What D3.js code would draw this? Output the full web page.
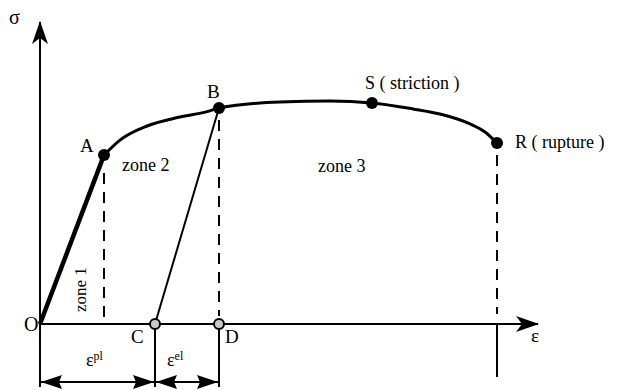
<!DOCTYPE html>
<html>
<head>
<meta charset="utf-8">
<script src="https://cdn.jsdelivr.net/npm/d3@7"></script>
<style>
  body { margin: 0; background: #fff; }
  svg { display: block; }
</style>
</head>
<body>
<div id="chart"></div>
<script>
// stress-strain curve
const curveStrain = [1.28, 1.6, 2.14, 2.8, 3.34, 3.58, 4.8, 5.8, 6.64, 7.46, 8.0, 8.6, 8.9, 9.14];
const curveStress = [56.3, 61.3, 66, 69, 70.8, 72, 74, 74.3, 73.7, 71.7, 70, 66.7, 64, 60.3];

const pointNames = ["A", "B", "S", "R"];
const pointStrain = [1.28, 3.58, 6.64, 9.14];
const pointStress = [56.3, 72, 73.7, 60.3];

const axisNames = ["C", "D"];
const axisStrain = [2.3, 3.58];

const zoneNames = ["zone 1", "zone 2", "zone 3"];

let width = 633;
let height = 390;

const x = d3.scaleLinear().domain([0, 10]).range([40, 540]);
const y = d3.scaleLinear().domain([0, 100]).range([324, 24]);

const svg = d3.select("#chart")
  .append("svg")
  .attr("width", width)
  .attr("height", height)
  .style("font-family", "'Liberation Serif', 'DejaVu Serif', serif");

const defs = svg.append("defs");
defs.append("marker")
  .attr("id", "axisArrow")
  .attr("viewBox", "0 0 24 18")
  .attr("refX", 22).attr("refY", 9)
  .attr("markerWidth", 24).attr("markerHeight", 18)
  .attr("markerUnits", "userSpaceOnUse")
  .attr("orient", "auto")
  .append("path")
  .attr("d", "M0,1 L23,9 L0,17 L6,9 Z")
  .attr("fill", "black");

defs.append("marker")
  .attr("id", "dimArrow")
  .attr("viewBox", "0 0 22 14")
  .attr("refX", 21).attr("refY", 7)
  .attr("markerWidth", 22).attr("markerHeight", 14)
  .attr("markerUnits", "userSpaceOnUse")
  .attr("orient", "auto-start-reverse")
  .append("path")
  .attr("d", "M0,0 L21,7 L0,14 L3,7 Z")
  .attr("fill", "black");

// axes
svg.append("line")
  .attr("x1", x(0)).attr("y1", y(0))
  .attr("x2", x(0)).attr("y2", 22)
  .attr("stroke", "black").attr("stroke-width", 2)
  .attr("marker-end", "url(#axisArrow)");

svg.append("line")
  .attr("x1", x(0)).attr("y1", y(0))
  .attr("x2", 538).attr("y2", y(0))
  .attr("stroke", "black").attr("stroke-width", 2)
  .attr("marker-end", "url(#axisArrow)");

svg.append("text").attr("x", 9).attr("y", 24).attr("font-size", 20).text("σ");
svg.append("text").attr("x", 531).attr("y", 342).attr("font-size", 19).text("ε");
svg.append("text").attr("x", 24).attr("y", 331).attr("font-size", 20).text("O");

// dashed guides down to the strain axis
const dashed = [
  { s: pointStrain[0], top: y(pointStress[0]) + 18, bot: y(0) - 6 },
  { s: pointStrain[1], top: y(pointStress[1]) + 12, bot: y(0) - 8 },
  { s: pointStrain[3], top: y(pointStress[3]) + 12, bot: y(0) - 10 }
];
svg.selectAll(".guide")
  .data(dashed)
  .join("line")
  .attr("class", "guide")
  .attr("x1", d => x(d.s)).attr("x2", d => x(d.s))
  .attr("y1", d => d.top).attr("y2", d => d.bot)
  .attr("stroke", "black").attr("stroke-width", 2)
  .attr("stroke-dasharray", "11 8");

// elastic line O -> A
svg.append("line")
  .attr("x1", x(0)).attr("y1", y(0))
  .attr("x2", x(pointStrain[0])).attr("y2", y(pointStress[0]))
  .attr("stroke", "black").attr("stroke-width", 4.5);

// unloading line C -> B
svg.append("line")
  .attr("x1", x(axisStrain[0])).attr("y1", y(0))
  .attr("x2", x(pointStrain[1])).attr("y2", y(pointStress[1]))
  .attr("stroke", "black").attr("stroke-width", 2);

// plastic curve
const line = d3.line()
  .x((d, i) => x(curveStrain[i]))
  .y(d => y(d))
  .curve(d3.curveMonotoneX);
svg.append("path")
  .attr("d", line(curveStress))
  .attr("fill", "none")
  .attr("stroke", "black")
  .attr("stroke-width", 3);

svg.selectAll(".pt")
  .data(pointNames)
  .join("circle")
  .attr("class", "pt")
  .attr("cx", (d, i) => x(pointStrain[i]))
  .attr("cy", (d, i) => y(pointStress[i]))
  .attr("r", 6)
  .attr("fill", "black");

// dimension lines under the axis
const dimX = [0, axisStrain[0], axisStrain[1]];
svg.selectAll(".dimV")
  .data(dimX)
  .join("line")
  .attr("class", "dimV")
  .attr("x1", d => x(d)).attr("x2", d => x(d))
  .attr("y1", y(0)).attr("y2", 387)
  .attr("stroke", "black").attr("stroke-width", 2);

svg.append("line")
  .attr("x1", x(pointStrain[3])).attr("x2", x(pointStrain[3]))
  .attr("y1", y(0)).attr("y2", 377)
  .attr("stroke", "black").attr("stroke-width", 2);

svg.selectAll(".dimH")
  .data([[dimX[0], dimX[1]], [dimX[1], dimX[2]]])
  .join("line")
  .attr("class", "dimH")
  .attr("x1", d => x(d[0]) + 1).attr("x2", d => x(d[1]) - 1)
  .attr("y1", 382).attr("y2", 382)
  .attr("stroke", "black").attr("stroke-width", 2)
  .attr("marker-start", "url(#dimArrow)")
  .attr("marker-end", "url(#dimArrow)");

// C and D
svg.selectAll(".ax")
  .data(axisNames)
  .join("circle")
  .attr("class", "ax")
  .attr("cx", (d, i) => x(axisStrain[i]))
  .attr("cy", y(0))
  .attr("r", 5)
  .attr("fill", "#c8c8c8")
  .attr("stroke", "black")
  .attr("stroke-width", 2);

svg.append("text").attr("x", 131).attr("y", 343).attr("font-size", 19).text(axisNames[0]);
svg.append("text").attr("x", 225).attr("y", 343).attr("font-size", 19).text(axisNames[1]);

// strain labels
const epsPl = svg.append("text").attr("x", 86).attr("y", 366).attr("font-size", 18);
epsPl.append("tspan").text("ε");
epsPl.append("tspan").attr("dy", -6).attr("font-size", 12).text("pl");
const epsEl = svg.append("text").attr("x", 167).attr("y", 366).attr("font-size", 18);
epsEl.append("tspan").text("ε");
epsEl.append("tspan").attr("dy", -6).attr("font-size", 12).text("el");

// point labels
svg.append("text").attr("x", 80).attr("y", 152).attr("font-size", 19).text("A");
svg.append("text").attr("x", 207).attr("y", 98).attr("font-size", 19).text("B");
svg.append("text").attr("x", 365).attr("y", 89).attr("font-size", 18).text("S ( striction )");
svg.append("text").attr("x", 515).attr("y", 148).attr("font-size", 18).text("R ( rupture )");

// zones
svg.append("text")
  .attr("transform", "translate(86,312) rotate(-90)")
  .attr("font-size", 17).text(zoneNames[0]);
svg.append("text").attr("x", 122).attr("y", 171).attr("font-size", 18).text(zoneNames[1]);
svg.append("text").attr("x", 318).attr("y", 172).attr("font-size", 18).text(zoneNames[2]);
</script>
</body>
</html>
